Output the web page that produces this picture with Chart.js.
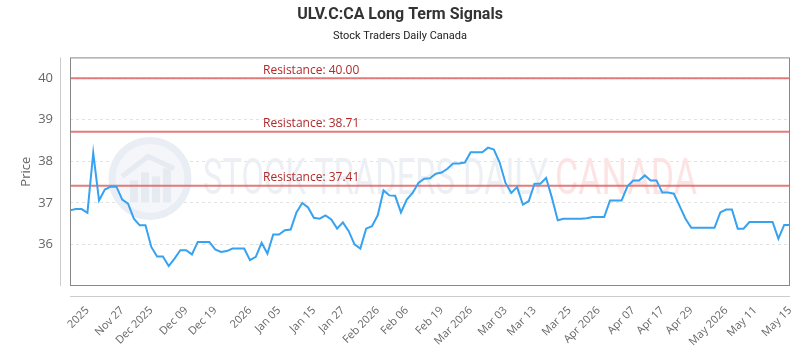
<!DOCTYPE html>
<html>
<head>
<meta charset="utf-8">
<script src="https://cdn.jsdelivr.net/npm/chart.js@4.4.1/dist/chart.umd.min.js"></script>
<style>
  html, body { margin: 0; padding: 0; background: #fff; }
  #wrap { width: 800px; height: 350px; }
</style>
</head>
<body>
<div id="wrap"><canvas id="chart"></canvas></div>
<script>
// closing prices, one per trading day
const prices = [
  36.82, 36.85, 36.85, 36.76, 38.20, 37.06, 37.32, 37.39, 37.39, 37.08,
  36.98, 36.62, 36.46, 36.46, 35.94, 35.71, 35.71, 35.48, 35.66, 35.86,
  35.86, 35.76, 36.06, 36.06, 36.06, 35.88, 35.82, 35.84, 35.90, 35.90,
  35.90, 35.62, 35.70, 36.04, 35.78, 36.24, 36.24, 36.34, 36.36, 36.77,
  37.00, 36.89, 36.64, 36.62, 36.70, 36.60, 36.38, 36.53, 36.32, 36.00,
  35.90, 36.38, 36.44, 36.70, 37.30, 37.18, 37.17, 36.77, 37.08, 37.24,
  37.48, 37.58, 37.59, 37.70, 37.73, 37.82, 37.95, 37.95, 37.97, 38.22,
  38.22, 38.22, 38.33, 38.28, 37.97, 37.48, 37.24, 37.38, 36.96, 37.04,
  37.46, 37.46, 37.60, 37.12, 36.58, 36.62, 36.62, 36.62, 36.62, 36.63,
  36.66, 36.66, 36.66, 37.06, 37.06, 37.06, 37.40, 37.54, 37.54, 37.66,
  37.54, 37.54, 37.25, 37.25, 37.22, 36.92, 36.62, 36.40, 36.40, 36.40,
  36.40, 36.40, 36.77, 36.84, 36.84, 36.38, 36.38, 36.54, 36.54, 36.54,
  36.54, 36.54, 36.14, 36.47, 36.47
];

// x-axis tick labels and the data index each one sits on
const tickLabels = [
  "2025", "Nov 27", "Dec 2025", "Dec 09", "Dec 19", "2026", "Jan 05", "Jan 15",
  "Jan 27", "Feb 2026", "Feb 06", "Feb 19", "Mar 2026", "Mar 03", "Mar 13", "Mar 25",
  "Apr 2026", "Apr 07", "Apr 17", "Apr 29", "May 2026", "May 11", "May 15"
];
const tickIndex = [3, 9, 14, 20, 25, 31, 36, 42, 47, 53, 58, 64, 69, 75, 80, 86, 91, 97, 102, 107, 113, 118, 124];

const resistance = [40.00, 38.71, 37.41];
const yTicks = [36, 37, 38, 39, 40];

const labels = prices.map((p, i) => {
    const k = tickIndex.indexOf(i);
    return k >= 0 ? tickLabels[k] : "";
});

const decor = {
    id: "decor",
    beforeDatasetsDraw(chart) {
        const ctx = chart.ctx;
        const a = chart.chartArea;
        const y = chart.scales.y;
        ctx.save();

        // watermark logo
        const cx = a.left + 80, cy = a.top + 121;
        ctx.beginPath();
        ctx.arc(cx, cy, 38, 0, Math.PI * 2);
        ctx.fillStyle = "#f4f6fa";
        ctx.fill();
        ctx.lineWidth = 7;
        ctx.strokeStyle = "#e9edf4";
        ctx.stroke();
        ctx.fillStyle = "#e6ebf2";
        [[-20, 8, 22], [-9, 8, 30], [2, 8, 26], [13, 8, 34]].forEach(b => {
            ctx.fillRect(cx + b[0], cy + 24 - b[2], b[1], b[2]);
        });
        ctx.beginPath();
        ctx.moveTo(cx - 28, cy - 2);
        ctx.lineTo(cx - 2, cy - 22);
        ctx.lineTo(cx + 24, cy - 10);
        ctx.lineWidth = 5;
        ctx.strokeStyle = "#e6ebf2";
        ctx.stroke();

        // watermark text
        ctx.textBaseline = "alphabetic";
        ctx.textAlign = "left";
        ctx.font = "50px Roboto";
        const t1 = "STOCK TRADERS DAILY";
        const w1 = ctx.measureText(t1).width;
        ctx.save();
        ctx.translate(a.left + 133, a.top + 137);
        ctx.scale(345 / w1, 1);
        ctx.fillStyle = "#eceff4";
        ctx.fillText(t1, 0, 0);
        ctx.restore();
        const t2 = "CANADA";
        const w2 = ctx.measureText(t2).width;
        ctx.save();
        ctx.translate(a.left + 485, a.top + 137);
        ctx.scale(142 / w2, 1);
        ctx.fillStyle = "#fde4e4";
        ctx.fillText(t2, 0, 0);
        ctx.restore();

        // resistance levels
        resistance.forEach(v => {
            const py = y.getPixelForValue(v);
            ctx.beginPath();
            ctx.moveTo(a.left, py);
            ctx.lineTo(a.right, py);
            ctx.lineWidth = 2;
            ctx.strokeStyle = "rgba(222, 90, 90, 0.8)";
            ctx.stroke();
            ctx.font = "12px 'Open Sans'";
            ctx.fillStyle = "#b02a2a";
            ctx.textBaseline = "bottom";
            ctx.fillText("Resistance: " + v.toFixed(2), a.left + 193, py - 2);
        });
        ctx.restore();
    },
    afterDraw(chart) {
        const ctx = chart.ctx;
        const a = chart.chartArea;
        ctx.save();
        ctx.lineWidth = 1;
        ctx.strokeStyle = "#cccccc";
        ctx.beginPath();
        ctx.moveTo(a.left - 10 + 0.5, a.top);
        ctx.lineTo(a.left - 10 + 0.5, a.bottom);
        ctx.moveTo(a.left, a.bottom + 10 + 0.5);
        ctx.lineTo(a.right, a.bottom + 10 + 0.5);
        ctx.stroke();
        ctx.strokeStyle = "#888888";
        ctx.strokeRect(a.left + 0.5, a.top + 0.5, a.width - 1, a.height - 1);
        ctx.restore();
    }
};

new Chart(document.getElementById("chart").getContext("2d"), {
    type: "line",
    data: {
        labels: labels,
        datasets: [{
            label: "Price",
            data: prices,
            borderColor: "#36a2f0",
            borderWidth: 2,
            pointRadius: 0,
            tension: 0,
            fill: false
        }]
    },
    options: {
        responsive: true,
        maintainAspectRatio: false,
        animation: false,
        layout: { padding: { top: 0, right: 0, left: 0, bottom: 0 } },
        plugins: {
            legend: { display: false },
            tooltip: { enabled: false },
            title: {
                display: true,
                text: "ULV.C:CA Long Term Signals",
                color: "#333",
                font: { family: "Roboto", size: 16, weight: "bold" },
                padding: { top: 5, bottom: 5 }
            },
            subtitle: {
                display: true,
                text: "Stock Traders Daily Canada",
                color: "#222",
                font: { family: "Roboto", size: 11 },
                padding: { top: 0, bottom: 15 }
            }
        },
        scales: {
            x: {
                grid: { display: false, drawTicks: true, tickLength: 10 },
                border: { display: false },
                ticks: {
                    autoSkip: false,
                    maxRotation: 45,
                    minRotation: 45,
                    padding: 8,
                    color: "#666",
                    font: { family: "'Open Sans'", size: 11 }
                },
                afterFit(scale) {
                    scale.height = 64;
                    scale.paddingLeft = 0;
                    scale.paddingRight = 10;
                }
            },
            y: {
                min: 35,
                max: 40.5,
                afterBuildTicks(scale) { scale.ticks = yTicks.map(v => ({ value: v })); },
                grid: {
                    color: "#e2e2e2",
                    tickColor: "transparent",
                    tickLength: 10
                },
                border: { display: false, dash: [3, 3] },
                ticks: {
                    padding: 7,
                    color: "#666",
                    font: { family: "'Open Sans'", size: 13 }
                },
                title: {
                    display: true,
                    text: "Price",
                    color: "#666",
                    font: { family: "'Open Sans'", size: 13 },
                    padding: { top: 18, bottom: 0 }
                },
                afterFit(scale) { scale.width = 70; }
            }
        }
    },
    plugins: [decor]
});
</script>
</body>
</html>
